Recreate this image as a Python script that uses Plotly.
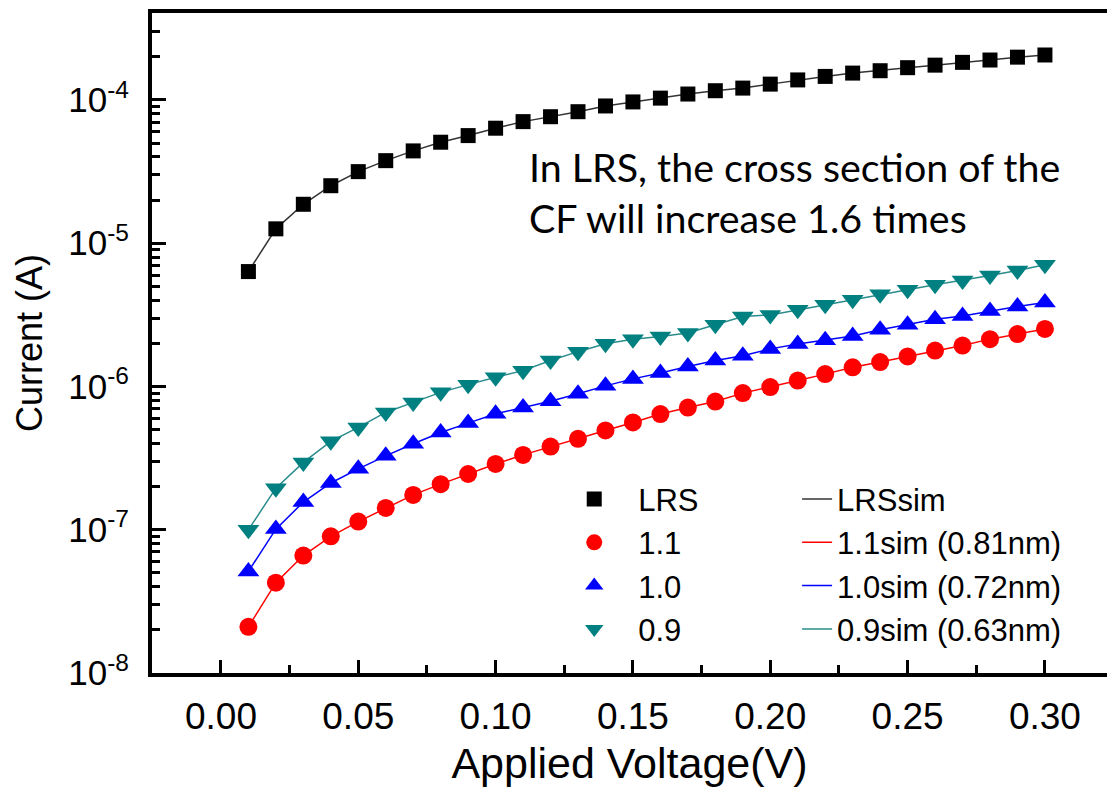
import plotly.graph_objects as go

# ---------------- data ----------------
voltage = [0.01, 0.02, 0.03, 0.04, 0.05, 0.06, 0.07, 0.08, 0.09, 0.10,
           0.11, 0.12, 0.13, 0.14, 0.15, 0.16, 0.17, 0.18, 0.19, 0.20,
           0.21, 0.22, 0.23, 0.24, 0.25, 0.26, 0.27, 0.28, 0.29, 0.30]

lrs = [6.34e-6, 1.26e-5, 1.87e-5, 2.52e-5, 3.16e-5, 3.77e-5, 4.41e-5, 5.07e-5, 5.64e-5, 6.35e-5,
       7.06e-5, 7.64e-5, 8.28e-5, 9.08e-5, 9.69e-5, 1.03e-4, 1.10e-4, 1.16e-4, 1.21e-4, 1.29e-4,
       1.38e-4, 1.46e-4, 1.54e-4, 1.60e-4, 1.68e-4, 1.75e-4, 1.83e-4, 1.90e-4, 1.99e-4, 2.06e-4]

cf_1_1 = [2.10e-8, 4.27e-8, 6.60e-8, 9.00e-8, 1.14e-7, 1.42e-7, 1.75e-7, 2.08e-7, 2.45e-7, 2.88e-7,
          3.33e-7, 3.81e-7, 4.31e-7, 4.93e-7, 5.61e-7, 6.42e-7, 7.13e-7, 7.85e-7, 8.99e-7, 9.90e-7,
          1.10e-6, 1.22e-6, 1.36e-6, 1.48e-6, 1.62e-6, 1.78e-6, 1.93e-6, 2.14e-6, 2.32e-6, 2.52e-6]

cf_1_0 = [5.12e-8, 1.01e-7, 1.56e-7, 2.12e-7, 2.66e-7, 3.28e-7, 3.98e-7, 4.77e-7, 5.55e-7, 6.45e-7,
          7.13e-7, 7.90e-7, 8.90e-7, 1.01e-6, 1.13e-6, 1.24e-6, 1.38e-6, 1.52e-6, 1.64e-6, 1.83e-6,
          1.98e-6, 2.10e-6, 2.25e-6, 2.49e-6, 2.70e-6, 2.95e-6, 3.11e-6, 3.37e-6, 3.62e-6, 3.86e-6]

cf_0_9 = [1.00e-7, 1.95e-7, 2.95e-7, 4.14e-7, 5.18e-7, 6.59e-7, 7.74e-7, 9.10e-7, 1.03e-6, 1.16e-6,
          1.29e-6, 1.52e-6, 1.75e-6, 1.99e-6, 2.14e-6, 2.23e-6, 2.36e-6, 2.70e-6, 3.08e-6, 3.16e-6,
          3.43e-6, 3.72e-6, 4.03e-6, 4.41e-6, 4.73e-6, 5.13e-6, 5.50e-6, 5.96e-6, 6.46e-6, 7.07e-6]

# simulated curves run through the measured points
lrs_sim = list(lrs)
cf_1_1_sim = list(cf_1_1)
cf_1_0_sim = list(cf_1_0)
cf_0_9_sim = list(cf_0_9)

measured_names = ["LRS", "1.1", "1.0", "0.9"]
sim_names = ["LRSsim", "1.1sim (0.81nm)", "1.0sim (0.72nm)", "0.9sim (0.63nm)"]

y_major_vals = [1e-8, 1e-7, 1e-6, 1e-5, 1e-4]
y_major_text = ["10<sup>-8</sup>", "10<sup>-7</sup>", "10<sup>-6</sup>", "10<sup>-5</sup>", "10<sup>-4</sup>"]
y_minor_vals = [m * 10.0 ** e for e in range(-8, -3) for m in range(2, 10)]

note_lines = ["In LRS, the cross section of the", "CF will increase 1.6 times"]

# ---------------- figure ----------------
colors = ["#000000", "#ff0000", "#0000ff", "#008080"]
line_colors = ["#333333", "#ff0000", "#0000ff", "#2a8c8c"]
symbols = ["square", "circle", "triangle-up", "triangle-down"]
sizes = [15, 18, 19, 19]

fig = go.Figure()

for name, ys, col in zip(sim_names, [lrs_sim, cf_1_1_sim, cf_1_0_sim, cf_0_9_sim], line_colors):
    fig.add_trace(go.Scatter(x=voltage, y=ys, mode="lines", name=name,
                             line=dict(color=col, width=1.5), legend="legend2"))

for name, ys, col, sym, sz in zip(measured_names, [lrs, cf_1_1, cf_1_0, cf_0_9], colors, symbols, sizes):
    fig.add_trace(go.Scatter(x=voltage, y=ys, mode="markers", name=name,
                             marker=dict(symbol=sym, size=sz, color=col, line=dict(width=0)),
                             legend="legend"))

font_family = "Liberation Sans, Arial, sans-serif"

fig.update_layout(
    width=1107, height=787,
    margin=dict(l=152, r=0, t=13, b=114),
    paper_bgcolor="white", plot_bgcolor="white",
    font=dict(family=font_family, color="black"),
    showlegend=True,
    legend=dict(x=0.417, y=0.304, xanchor="left", yanchor="top",
                bgcolor="rgba(0,0,0,0)", font=dict(size=31, family=font_family),
                itemwidth=78, tracegroupgap=0),
    legend2=dict(x=0.6755, y=0.304, xanchor="left", yanchor="top",
                 bgcolor="rgba(0,0,0,0)", font=dict(size=31, family=font_family),
                 tracegroupgap=0),
    annotations=[dict(
        text="<br>".join(note_lines), xref="paper", yref="paper",
        x=(527 - 152) / 955, y=0.7288, xanchor="left", yanchor="middle",
        align="left", showarrow=False,
        font=dict(family="Lato, sans-serif", size=39.4, color="black"))],
)

fig.update_xaxes(
    range=[-0.0251, 0.3226], showgrid=False, zeroline=False,
    showline=True, linewidth=4, linecolor="black", mirror=True,
    ticks="inside", ticklen=13, tickwidth=3, tickcolor="black",
    tick0=0, dtick=0.05, tickformat=".2f",
    minor=dict(ticks="inside", ticklen=8, tickwidth=3, tickcolor="black", tick0=0, dtick=0.025, showgrid=False),
    tickfont=dict(size=37), ticklabelstandoff=8,
    title=dict(text="Applied Voltage(V)", font=dict(size=43), standoff=14),
)

fig.update_yaxes(
    type="log", range=[-8, -3.393], showgrid=False, zeroline=False,
    showline=True, linewidth=4, linecolor="black", mirror=False,
    ticks="inside", ticklen=14, tickwidth=3, tickcolor="black",
    tickmode="array", tickvals=y_major_vals, ticktext=y_major_text,
    minor=dict(ticks="inside", ticklen=8, tickwidth=3, tickcolor="black",
               tickmode="array", tickvals=y_minor_vals, showgrid=False),
    tickfont=dict(size=35), ticklabelstandoff=12,
    title=dict(text="Current (A)", font=dict(size=36), standoff=16),
)

fig.write_html("out.html")
